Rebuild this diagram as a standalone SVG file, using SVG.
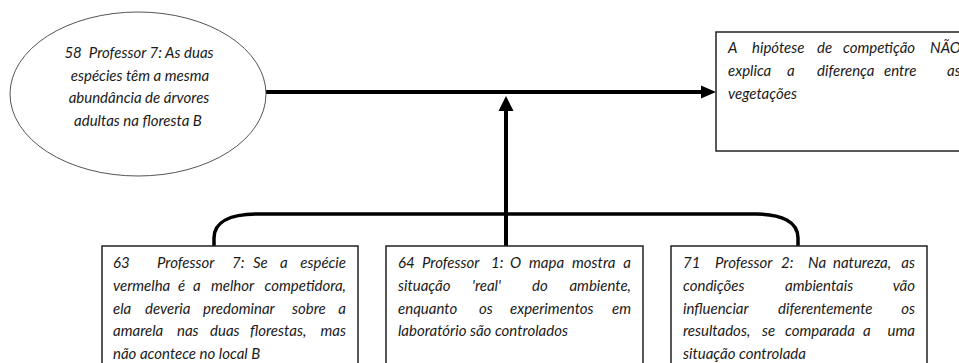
<svg xmlns="http://www.w3.org/2000/svg" width="959" height="363" viewBox="0 0 959 363">
<style>
.t{font-family:Lato,"Liberation Sans",sans-serif;font-style:italic;font-size:15px;fill:#1a1a1a;white-space:pre}
.e{text-anchor:middle}
.r{text-anchor:end}
.box{fill:#fff;stroke:#222;stroke-width:1.5}
.ell{fill:#fff;stroke:#555;stroke-width:1}
.ln{fill:none;stroke:#000;stroke-width:4}
.br{fill:none;stroke:#000;stroke-width:3.5}
.ah{fill:#000}
</style>
<rect width="959" height="363" fill="#fff"/>
<g id="connectors">
<line class="ln" x1="266" y1="92" x2="703" y2="92"/>
<polygon class="ah" points="701,85.5 716,92 701,98.5"/>
<line class="ln" x1="506" y1="246" x2="506" y2="110"/>
<polygon class="ah" points="498.5,111 506,96 513.5,111"/>
<path class="br" d="M214,246 V238 C214,222 230,214 258,214 H756 C782,214 798,222 798,238 V246"/>
</g>
<g id="n58">
<ellipse class="ell" cx="138" cy="94" rx="128" ry="82"/>
<text class="t e" x="139" y="58">58  Professor 7: As duas</text>
<text class="t e" x="140" y="80.5">espécies têm a mesma</text>
<text class="t e" x="139" y="103">abundância de árvores</text>
<text class="t e" x="138" y="125.5">adultas na floresta B</text>
</g>
<g id="nA">
<rect class="box" x="716" y="32" width="260" height="119"/>
<text class="t" y="53"><tspan x="728">A</tspan><tspan x="752">hipótese</tspan><tspan x="817">de</tspan><tspan x="843">competição</tspan><tspan x="930">NÃO</tspan></text>
<text class="t" y="76"><tspan x="728">explica</tspan><tspan x="787">a</tspan><tspan x="817">diferença</tspan><tspan x="884">entre</tspan><tspan x="947">as</tspan></text>
<text class="t" x="728" y="99">vegetações</text>
</g>
<g id="n63">
<rect class="box" x="102" y="246" width="256" height="130"/>
<text class="t" y="268"><tspan x="113">63</tspan><tspan x="157">Professor</tspan><tspan x="232">7:</tspan><tspan x="253">Se</tspan><tspan x="280">a</tspan><tspan class="r" x="346">espécie</tspan></text>
<text class="t" y="291"><tspan x="113">vermelha</tspan><tspan x="178">é</tspan><tspan x="193">a</tspan><tspan x="211">melhor</tspan><tspan class="r" x="346">competidora,</tspan></text>
<text class="t" y="313.5"><tspan x="113">ela</tspan><tspan x="145">deveria</tspan><tspan x="203">predominar</tspan><tspan x="292">sobre</tspan><tspan class="r" x="346">a</tspan></text>
<text class="t" y="336"><tspan x="113">amarela</tspan><tspan x="177">nas</tspan><tspan x="210">duas</tspan><tspan x="250">florestas,</tspan><tspan class="r" x="346">mas</tspan></text>
<text class="t" x="113" y="359">não acontece no local B</text>
</g>
<g id="n64">
<rect class="box" x="386" y="246" width="257" height="130"/>
<text class="t" y="268"><tspan x="398">64</tspan><tspan x="422">Professor</tspan><tspan x="491">1:</tspan><tspan x="510">O</tspan><tspan x="529">mapa</tspan><tspan x="572">mostra</tspan><tspan class="r" x="631">a</tspan></text>
<text class="t" y="291"><tspan x="398">situação</tspan><tspan x="472">'real'</tspan><tspan x="532">do</tspan><tspan class="r" x="631">ambiente,</tspan></text>
<text class="t" y="313.5"><tspan x="398">enquanto</tspan><tspan x="479">os</tspan><tspan x="510">experimentos</tspan><tspan class="r" x="631">em</tspan></text>
<text class="t" x="398" y="336">laboratório são controlados</text>
</g>
<g id="n71">
<rect class="box" x="671" y="246" width="256" height="130"/>
<text class="t" y="268"><tspan x="683">71</tspan><tspan x="715">Professor</tspan><tspan x="781">2:</tspan><tspan x="808">Na</tspan><tspan x="833">natureza,</tspan><tspan class="r" x="915">as</tspan></text>
<text class="t" y="291"><tspan x="683">condições</tspan><tspan x="785">ambientais</tspan><tspan class="r" x="915">vão</tspan></text>
<text class="t" y="313.5"><tspan x="683">influenciar</tspan><tspan x="778">diferentemente</tspan><tspan class="r" x="915">os</tspan></text>
<text class="t" y="336"><tspan x="683">resultados,</tspan><tspan x="762">se</tspan><tspan x="785">comparada</tspan><tspan x="863">a</tspan><tspan class="r" x="915">uma</tspan></text>
<text class="t" x="683" y="359">situação controlada</text>
</g>
</svg>
